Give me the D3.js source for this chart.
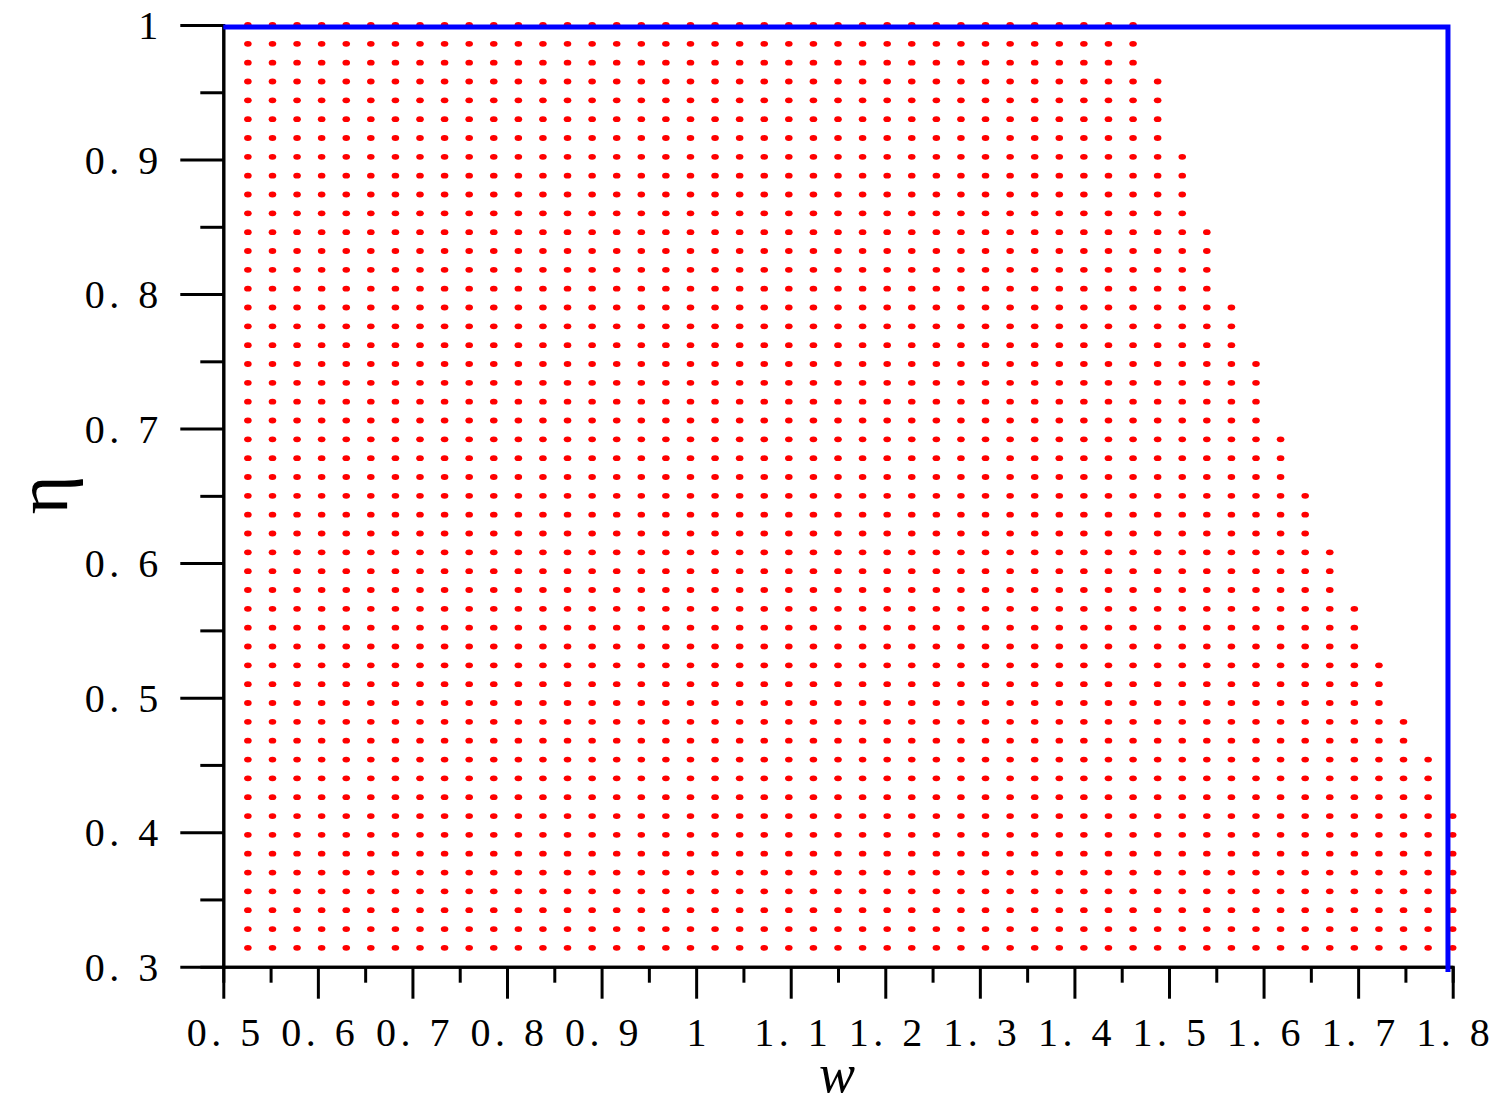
<!DOCTYPE html>
<html>
<head>
<meta charset="utf-8">
<script src="https://cdn.jsdelivr.net/npm/d3@7"></script>
<style>
  body { margin: 0; background: #fff; }
  text { font-family: "Liberation Serif", "Times New Roman", serif; fill: #000; }
</style>
</head>
<body>
<div id="chart-area"></div>
<script>
// grid of w values (columns) and eta values (rows)
var wValues = [0.526, 0.552, 0.578, 0.604, 0.630, 0.656, 0.682, 0.708, 0.734, 0.760,
    0.786, 0.812, 0.838, 0.864, 0.890, 0.916, 0.942, 0.968, 0.994, 1.020,
    1.046, 1.072, 1.098, 1.124, 1.150, 1.176, 1.202, 1.228, 1.254, 1.280,
    1.306, 1.332, 1.358, 1.384, 1.410, 1.436, 1.462, 1.488, 1.514, 1.540,
    1.566, 1.592, 1.618, 1.644, 1.670, 1.696, 1.722, 1.748, 1.774, 1.800];

var etaValues = [0.314, 0.328, 0.342, 0.356, 0.370, 0.384, 0.398, 0.412, 0.426, 0.440,
    0.454, 0.468, 0.482, 0.496, 0.510, 0.524, 0.538, 0.552, 0.566, 0.580,
    0.594, 0.608, 0.622, 0.636, 0.650, 0.664, 0.678, 0.692, 0.706, 0.720,
    0.734, 0.748, 0.762, 0.776, 0.790, 0.804, 0.818, 0.832, 0.846, 0.860,
    0.874, 0.888, 0.902, 0.916, 0.930, 0.944, 0.958, 0.972, 0.986, 1.000];

// highest eta that is still feasible, one per w column
var etaMax = [1, 1, 1, 1, 1, 1, 1, 1, 1, 1,
    1, 1, 1, 1, 1, 1, 1, 1, 1, 1,
    1, 1, 1, 1, 1, 1, 1, 1, 1, 1,
    1, 1, 1, 1, 1, 1, 1, 0.958, 0.902, 0.846,
    0.790, 0.748, 0.692, 0.650, 0.608, 0.566, 0.524, 0.482, 0.454, 0.412];

// blue boundary line
var lineW = [0.5, 1.795, 1.795];
var lineEta = [0.9985, 0.9985, 0.296];

var xMajor = [0.5, 0.6, 0.7, 0.8, 0.9, 1.0, 1.1, 1.2, 1.3, 1.4, 1.5, 1.6, 1.7, 1.8];
var xMinor = [0.55, 0.65, 0.75, 0.85, 0.95, 1.05, 1.15, 1.25, 1.35, 1.45, 1.55, 1.65, 1.75];
var xTickLabels = ["0. 5", "0. 6", "0. 7", "0. 8", "0. 9", "1", "1. 1", "1. 2", "1. 3", "1. 4", "1. 5", "1. 6", "1. 7", "1. 8"];

var yMajor = [0.3, 0.4, 0.5, 0.6, 0.7, 0.8, 0.9, 1.0];
var yMinor = [0.35, 0.45, 0.55, 0.65, 0.75, 0.85, 0.95];
var yTickLabels = ["0. 3", "0. 4", "0. 5", "0. 6", "0. 7", "0. 8", "0. 9", "1"];

var margin = {left: 223.3, right: 44.3, top: 25, bottom: 137.3};
var width = 1497 - margin.left - margin.right;
var height = 1104 - margin.top - margin.bottom;

var svg = d3.select('#chart-area')
    .append('svg')
        .attr('width', 1497)
        .attr('height', 1104);

var g = svg.append('g')
    .attr('transform', 'translate(' + margin.left + ', ' + margin.top + ')');

var x = d3.scaleLinear()
    .domain([0.5, 1.8])
    .range([0, width]);

var y = d3.scaleLinear()
    .domain([0.3, 1])
    .range([height, 0]);

// feasible points
var points = [];
wValues.forEach((w, i) => {
    etaValues.forEach((e) => {
        if (e <= etaMax[i] + 1e-9) {
            points.push({w: w, eta: e});
        }
    });
});

g.append('g')
    .attr('class', 'points')
    .selectAll('ellipse')
    .data(points)
    .enter()
    .append('ellipse')
    .attr('cx', (d) => { return x(d.w); })
    .attr('cy', (d) => { return y(d.eta); })
    .attr('rx', 3.8)
    .attr('ry', 2.9)
    .attr('fill', '#ff0000');

// axes
var xLabel = (d, i) => { return xTickLabels[i]; };
var yLabel = (d, i) => { return yTickLabels[i]; };

g.append('g')
    .attr('class', 'x minor')
    .attr('transform', 'translate(0, ' + height + ')')
    .call(d3.axisBottom(x).tickValues(xMinor).tickSize(16).tickFormat(''));

var xAxis = g.append('g')
    .attr('class', 'x axis')
    .attr('transform', 'translate(0, ' + height + ')')
    .call(d3.axisBottom(x).tickValues(xMajor).tickSize(32).tickSizeOuter(0).tickFormat(xLabel));

xAxis.selectAll('text')
    .attr('y', 79)
    .attr('dy', 0)
    .attr('dx', 2)
    .attr('font-size', '40px')
    .attr('letter-spacing', '4.5px');

g.append('g')
    .attr('class', 'y minor')
    .call(d3.axisLeft(y).tickValues(yMinor).tickSize(23).tickFormat(''));

var yAxis = g.append('g')
    .attr('class', 'y axis')
    .call(d3.axisLeft(y).tickValues(yMajor).tickSize(43).tickSizeOuter(0).tickFormat(yLabel));

yAxis.selectAll('text')
    .attr('x', -60.5)
    .attr('dy', 13.5)
    .attr('font-size', '40px')
    .attr('letter-spacing', '4.5px');

g.selectAll('.domain, .tick line')
    .attr('stroke', '#000')
    .attr('stroke-width', 3);

// blue boundary
var line = d3.line()
    .x((d) => { return x(d[0]); })
    .y((d) => { return y(d[1]); });

g.append('path')
    .datum(lineW.map((w, i) => { return [w, lineEta[i]]; }))
    .attr('d', line)
    .attr('fill', 'none')
    .attr('stroke', '#0000ff')
    .attr('stroke-width', 5)
    .attr('stroke-linejoin', 'miter');

// axis titles
svg.append('text')
    .attr('x', 837)
    .attr('y', 1092)
    .attr('font-size', '54px')
    .attr('font-style', 'italic')
    .attr('text-anchor', 'middle')
    .text('w');

svg.append('text')
    .attr('transform', 'translate(67, 495) rotate(-90)')
    .attr('font-size', '75px')
    .attr('text-anchor', 'middle')
    .text('η');
</script>
</body>
</html>
